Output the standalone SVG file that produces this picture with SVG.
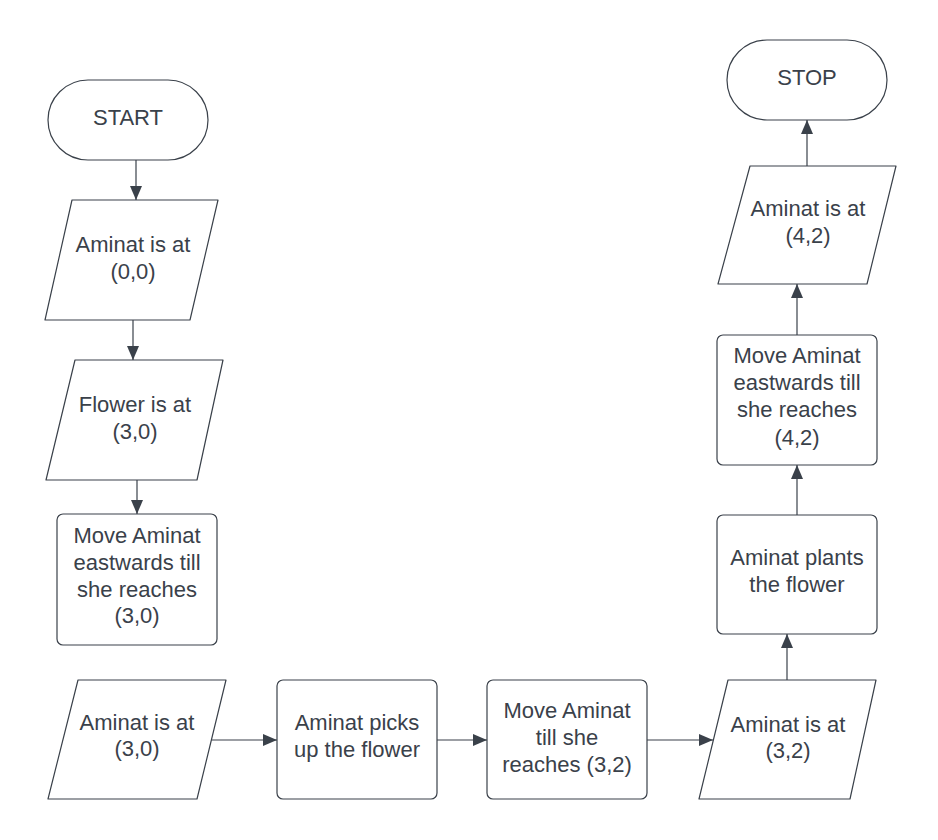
<svg xmlns="http://www.w3.org/2000/svg" width="938" height="840" viewBox="0 0 938 840">
<defs>
<style>
.s{fill:#ffffff;stroke:#3a414a;stroke-width:1.2;stroke-linejoin:round}
.t{font-family:"Liberation Sans",Arial,sans-serif;font-size:22px;fill:#3a414a;text-anchor:middle}
.c{stroke:#3a414a;stroke-width:1.2;fill:none;marker-end:url(#ah)}
</style>
<marker id="ah" markerUnits="userSpaceOnUse" markerWidth="16" markerHeight="14" refX="14" refY="7" orient="auto">
<path d="M0,1 L14,7 L0,13 Z" fill="#3a414a"/>
</marker>
</defs>
<rect width="938" height="840" fill="#ffffff"/>
<g id="connectors">
<line class="c" x1="136" y1="160" x2="136" y2="200"/>
<line class="c" x1="133" y1="320" x2="133" y2="360"/>
<line class="c" x1="137" y1="480" x2="137" y2="514"/>
<line class="c" x1="212" y1="740" x2="277" y2="740"/>
<line class="c" x1="437" y1="740" x2="487" y2="740"/>
<line class="c" x1="647" y1="740" x2="713" y2="740"/>
<line class="c" x1="787" y1="680" x2="787" y2="634"/>
<line class="c" x1="797" y1="515" x2="797" y2="465"/>
<line class="c" x1="797" y1="335" x2="797" y2="284"/>
<line class="c" x1="807" y1="166" x2="807" y2="120"/>
</g>
<g id="start">
<rect class="s" x="48" y="80" width="160" height="80" rx="40"/>
<text class="t" x="128" y="125">START</text>
</g>
<g id="aminat00">
<polygon class="s" points="72,200 218,200 190,320 45,320"/>
<text class="t" x="133" y="252">Aminat is at</text>
<text class="t" x="133" y="279">(0,0)</text>
</g>
<g id="flower30">
<polygon class="s" points="75,360 223,360 197,480 46,480"/>
<text class="t" x="135" y="412">Flower is at</text>
<text class="t" x="135" y="439">(3,0)</text>
</g>
<g id="move30">
<rect class="s" x="57" y="514" width="160" height="131" rx="6"/>
<text class="t" x="137" y="543">Move Aminat</text>
<text class="t" x="137" y="570">eastwards till</text>
<text class="t" x="137" y="597">she reaches</text>
<text class="t" x="137" y="623">(3,0)</text>
</g>
<g id="aminat30">
<polygon class="s" points="78,680 226,680 197,799 48,799"/>
<text class="t" x="137" y="730">Aminat is at</text>
<text class="t" x="137" y="756">(3,0)</text>
</g>
<g id="picks">
<rect class="s" x="277" y="680" width="160" height="119" rx="6"/>
<text class="t" x="357" y="730">Aminat picks</text>
<text class="t" x="357" y="757">up the flower</text>
</g>
<g id="move32">
<rect class="s" x="487" y="680" width="160" height="119" rx="6"/>
<text class="t" x="567" y="718">Move Aminat</text>
<text class="t" x="567" y="745">till she</text>
<text class="t" x="567" y="772">reaches (3,2)</text>
</g>
<g id="aminat32">
<polygon class="s" points="728,680 876,680 850,799 699,799"/>
<text class="t" x="788" y="732">Aminat is at</text>
<text class="t" x="788" y="758">(3,2)</text>
</g>
<g id="plants">
<rect class="s" x="717" y="515" width="160" height="119" rx="6"/>
<text class="t" x="797" y="565">Aminat plants</text>
<text class="t" x="797" y="592">the flower</text>
</g>
<g id="move42">
<rect class="s" x="717" y="335" width="160" height="130" rx="6"/>
<text class="t" x="797" y="363">Move Aminat</text>
<text class="t" x="797" y="390">eastwards till</text>
<text class="t" x="797" y="417">she reaches</text>
<text class="t" x="797" y="445">(4,2)</text>
</g>
<g id="aminat42">
<polygon class="s" points="750,166 896,166 867,284 718,284"/>
<text class="t" x="808" y="216">Aminat is at</text>
<text class="t" x="808" y="243">(4,2)</text>
</g>
<g id="stop">
<rect class="s" x="727" y="40" width="160" height="80" rx="40"/>
<text class="t" x="807" y="85">STOP</text>
</g>
</svg>
